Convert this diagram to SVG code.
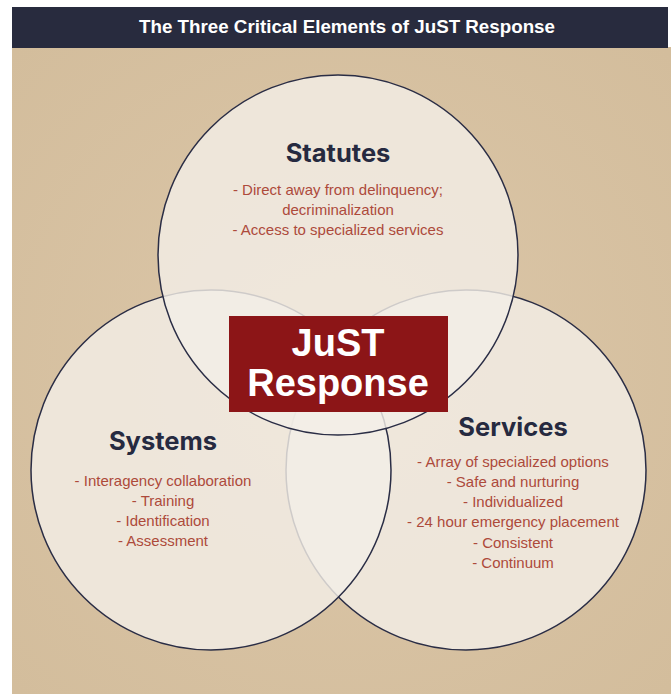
<svg xmlns="http://www.w3.org/2000/svg" width="671" height="694" viewBox="0 0 671 694">
<defs>
<style>
.circle{fill:#f3eee6;fill-opacity:0.82;stroke:#2a2d45;stroke-width:1.5}
.head{font-family:Inter,"Liberation Sans",sans-serif;font-weight:700;font-size:25.5px;fill:#262a40;text-anchor:middle}
.item{font-family:"Liberation Sans",Arial,sans-serif;font-size:15px;fill:#ad4a3b;text-anchor:middle}
.title{font-family:"Liberation Sans",Arial,sans-serif;font-weight:700;font-size:18px;fill:#ffffff;text-anchor:middle}
.center{font-family:"Liberation Sans",Arial,sans-serif;font-weight:700;font-size:38px;fill:#ffffff;text-anchor:middle}
</style>
<radialGradient id="tex" cx="0.5" cy="0.5" r="0.7">
<stop offset="0" stop-color="#dcc7a9"/>
<stop offset="1" stop-color="#d3bd9c"/>
</radialGradient>
</defs>
<rect x="0" y="0" width="671" height="694" fill="#ffffff"/>
<rect x="12" y="47" width="659" height="647" fill="url(#tex)"/>
<rect x="12" y="7" width="656" height="41" fill="#282b3e"/>
<text class="title" x="347" y="33" textLength="416" lengthAdjust="spacingAndGlyphs">The Three Critical Elements of JuST Response</text>
<g id="services">
<circle class="circle" cx="466" cy="470" r="180"/>
</g>
<g id="systems">
<circle class="circle" cx="211" cy="470" r="180"/>
</g>
<g id="statutes">
<circle class="circle" cx="338" cy="255" r="180"/>
</g>
<g id="connectors"></g>
<g id="statutes-text">
<text class="head" x="338" y="162">Statutes</text>
<text class="item" x="338" y="195">- Direct away from delinquency;</text>
<text class="item" x="338" y="215">decriminalization</text>
<text class="item" x="338" y="235">- Access to specialized services</text>
</g>
<g id="systems-text">
<text class="head" x="163" y="450">Systems</text>
<text class="item" x="163" y="486">- Interagency collaboration</text>
<text class="item" x="163" y="506">- Training</text>
<text class="item" x="163" y="526">- Identification</text>
<text class="item" x="163" y="546">- Assessment</text>
</g>
<g id="services-text">
<text class="head" x="513" y="436">Services</text>
<text class="item" x="513" y="467">- Array of specialized options</text>
<text class="item" x="513" y="487">- Safe and nurturing</text>
<text class="item" x="513" y="507">- Individualized</text>
<text class="item" x="513" y="527">- 24 hour emergency placement</text>
<text class="item" x="513" y="548">- Consistent</text>
<text class="item" x="513" y="568">- Continuum</text>
</g>
<g id="just-response">
<rect x="229" y="316" width="219" height="96" fill="#8c1517"/>
<text class="center" x="338" y="356">JuST</text>
<text class="center" x="338" y="396">Response</text>
</g>
</svg>
